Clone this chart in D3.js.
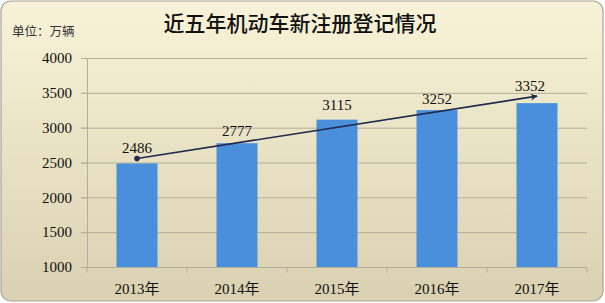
<!DOCTYPE html>
<html><head><meta charset="utf-8">
<script src="https://cdn.jsdelivr.net/npm/d3@7"></script>
<style>html,body{margin:0;padding:0;background:#fff;}svg{display:block;}</style>
</head><body>
<script>
const categories = ["2013年","2014年","2015年","2016年","2017年"];
const values = [2486, 2777, 3115, 3252, 3352];
const yTicks = [1000,1500,2000,2500,3000,3500,4000];
const title = "近五年机动车新注册登记情况";
const unitLabel = "单位：万辆";

const W=605,H=303;
const svg=d3.select("body").append("svg").attr("width",W).attr("height",H);
const defs=svg.append("defs");
const g1=defs.append("linearGradient").attr("id","bg").attr("x1",0).attr("y1",0).attr("x2",0).attr("y2",1);
g1.append("stop").attr("offset","0%").attr("stop-color","#f8f3d8");
g1.append("stop").attr("offset","100%").attr("stop-color","#d9d1b1");
const mk=defs.append("marker").attr("id","arr").attr("viewBox","0 0 10 10").attr("refX",9).attr("refY",5)
  .attr("markerWidth",7).attr("markerHeight",7).attr("orient","auto").attr("markerUnits","userSpaceOnUse");
mk.append("path").attr("d","M0,0 L10,5 L0,10 L3,5 Z").attr("fill","#1f2a4d");

svg.append("rect").attr("x",1).attr("y",1).attr("width",W-3).attr("height",H-3).attr("rx",10)
  .attr("fill","url(#bg)").attr("stroke","#a8a49a").attr("stroke-width",1.2);

const x=d3.scaleBand().domain(categories).range([87,587]).paddingInner(0.59).paddingOuter(0.295);
const y=d3.scaleLinear().domain([1000,4000]).range([267,58]);

// gridlines
svg.append("g").selectAll("line").data(yTicks.slice(1)).join("line")
  .attr("x1",81).attr("x2",587).attr("y1",d=>y(d)+0.5).attr("y2",d=>y(d)+0.5)
  .attr("stroke","#b3ae9b").attr("stroke-width",1);

// y axis
const ya=svg.append("g").attr("transform","translate(87,0)")
  .call(d3.axisLeft(y).tickValues(yTicks).tickSize(6).tickPadding(9).tickFormat(d3.format("d")));
ya.select(".domain").attr("stroke","#b3ae9b");
ya.selectAll(".tick line").attr("stroke","#b3ae9b");
ya.selectAll("text").attr("font-family","'Liberation Serif',serif").attr("font-size",15).attr("fill","#111");

// x axis
const xa=svg.append("g").attr("transform","translate(0,267.5)");
xa.append("line").attr("x1",81).attr("x2",587).attr("stroke","#b3ae9b");
const bounds=[87].concat(categories.map(c=>x(c)+x.bandwidth()/2+x.step()/2));
xa.selectAll(".tk").data(bounds).join("line").attr("class","tk")
  .attr("x1",d=>d).attr("x2",d=>d).attr("y1",0).attr("y2",5).attr("stroke","#b3ae9b");
xa.selectAll("text").data(categories).join("text")
  .attr("x",d=>x(d)+x.bandwidth()/2).attr("y",26).attr("text-anchor","middle")
  .attr("font-family","'Liberation Serif','Noto Sans CJK SC',serif").attr("font-size",15).attr("fill","#111").text(d=>d);

// bars
svg.append("g").selectAll("rect").data(values).join("rect")
  .attr("x",(d,i)=>x(categories[i])).attr("width",x.bandwidth())
  .attr("y",d=>y(d)).attr("height",d=>y(1000)-y(d)).attr("fill","#4a8fdb");

// trend arrow
const n=values.length-1;
const x0=x(categories[0])+x.bandwidth()/2, y0=y(values[0])-5;
const x1=x(categories[n])+x.bandwidth()/2, y1=y(values[n])-7;
svg.append("line").attr("x1",x0).attr("y1",y0).attr("x2",x1).attr("y2",y1)
  .attr("stroke","#1f2a4d").attr("stroke-width",1.6).attr("marker-end","url(#arr)");
svg.append("circle").attr("cx",x0).attr("cy",y0).attr("r",2.8).attr("fill","#1f2a4d");

// value labels
const lblDy=[ -10, -7, -10, -6, -12];
svg.append("g").selectAll("text").data(values).join("text")
  .attr("x",(d,i)=>x(categories[i])+x.bandwidth()/2 + (i===n?-7:0))
  .attr("y",(d,i)=>y(d)+lblDy[i]).attr("text-anchor","middle")
  .attr("font-family","'Liberation Serif',serif").attr("font-size",15).attr("fill","#111").text(d=>d);

// title
svg.append("text").attr("x",300).attr("y",31).attr("text-anchor","middle")
  .attr("font-family","'Noto Sans CJK SC',sans-serif").attr("font-size",21).attr("font-weight",500).attr("fill","#111").text(title);
svg.append("text").attr("x",12).attr("y",36)
  .attr("font-family","'Noto Sans CJK SC',sans-serif").attr("font-size",12.5).attr("fill","#333").text(unitLabel);
</script>
</body></html>
